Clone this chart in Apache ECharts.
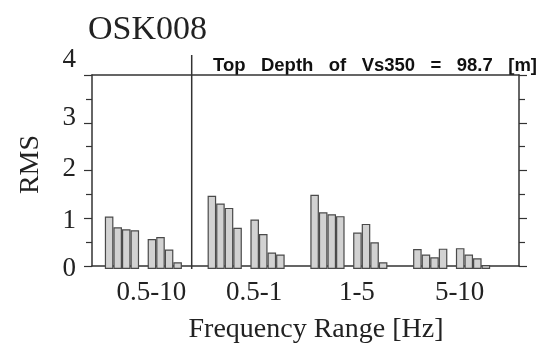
<!DOCTYPE html>
<html>
<head>
<meta charset="utf-8">
<script src="https://cdn.jsdelivr.net/npm/echarts@6/dist/echarts.min.js"></script>
<style>html,body{margin:0;padding:0;background:#fff}#c{width:539px;height:349px}</style>
</head>
<body>
<div id="c"></div>
<script>
// Frequency-range categories (x axis)
var categories = ['0.5-10', '0.5-1', '1-5', '5-10'];
// RMS values: 8 bars per frequency range (two groups of four)
var range_05_10 = [1.08, 0.86, 0.82, 0.80, 0.62, 0.66, 0.40, 0.14];
var range_05_1  = [1.51, 1.35, 1.26, 0.85, 1.02, 0.72, 0.34, 0.30];
var range_1_5   = [1.53, 1.17, 1.13, 1.09, 0.75, 0.93, 0.55, 0.14];
var range_5_10  = [0.41, 0.30, 0.24, 0.42, 0.43, 0.30, 0.22, 0.08];
// y-axis ticks
var yTicks = [0, 1, 2, 3, 4];
var titleText = 'OSK008';
var noteText = 'Top   Depth   of   Vs350   =   98.7   [m]';

var ranges = [range_05_10, range_05_1, range_1_5, range_5_10];
var serif = '"Liberation Serif", "Times New Roman", serif';
var lineCol = '#333';

var series = [];
for (var k = 0; k < 8; k++) {
  if (k === 4) {
    // empty spacer between the two groups of four
    series.push({type: 'bar', xAxisIndex: 1, yAxisIndex: 2, data: ranges.map(function(){return '-';}), barGap: '0%', barCategoryGap: '25%'});
  }
  series.push({
    type: 'bar', xAxisIndex: 1, yAxisIndex: 2,
    data: ranges.map(function (r) { return r[k]; }),
    barGap: '0%', barCategoryGap: '25%',
    itemStyle: {color: '#d2d2d2', borderColor: '#4a4a4a', borderWidth: 1.2},
    silent: true
  });
}

var chart = echarts.init(document.getElementById('c'), null, {renderer: 'canvas'});
chart.setOption({
  animation: false,
  backgroundColor: '#fff',
  grid: [
    {left: 92, right: 20, top: 75, bottom: 80},
    {left: 92, right: 36, top: 75, bottom: 80}
  ],
  xAxis: [
    {type: 'value', gridIndex: 0, min: 0, max: 1, position: 'bottom',
     axisLine: {show: true, onZero: false, lineStyle: {color: lineCol, width: 1.5}},
     axisTick: {show: false}, axisLabel: {show: false}, splitLine: {show: false},
     name: 'Frequency Range [Hz]', nameLocation: 'middle', nameGap: 50,
     nameTextStyle: {fontFamily: serif, fontSize: 28, color: '#222', padding: [0, 0, 0, 21]}},
    {type: 'category', gridIndex: 1, data: categories,
     axisLine: {show: false}, axisTick: {show: false},
     axisLabel: {fontFamily: serif, fontSize: 27, color: '#222', margin: 10, padding: [0, 0, 0, 16]}},
    {type: 'value', gridIndex: 0, min: 0, max: 1, position: 'top',
     axisLine: {show: true, onZero: false, lineStyle: {color: lineCol, width: 1.5}},
     axisTick: {show: false}, axisLabel: {show: false}, splitLine: {show: false}}
  ],
  yAxis: [
    {type: 'value', gridIndex: 0, min: yTicks[0], max: yTicks[yTicks.length - 1], interval: 1, position: 'left',
     axisLine: {show: true, onZero: false, lineStyle: {color: lineCol, width: 1.5}},
     axisTick: {show: true, length: 8, lineStyle: {color: lineCol, width: 1.2}},
     minorTick: {show: true, splitNumber: 2, length: 6, lineStyle: {color: lineCol, width: 1.2}},
     splitLine: {show: false},
     axisLabel: {fontFamily: serif, fontSize: 27, color: '#222', margin: 16,
       formatter: function (v) { return '{t' + v + '|' + v + '}'; },
       rich: {
         t0: {fontFamily: serif, fontSize: 27, color: '#222', padding: [6, 0, 0, 0]},
         t1: {fontFamily: serif, fontSize: 27, color: '#222', padding: [6, 0, 0, 0]},
         t2: {fontFamily: serif, fontSize: 27, color: '#222', padding: [0, 0, 4, 0]},
         t3: {fontFamily: serif, fontSize: 27, color: '#222', padding: [0, 0, 10, 0]},
         t4: {fontFamily: serif, fontSize: 27, color: '#222', padding: [0, 0, 30, 0]}
       }},
     name: 'RMS', nameLocation: 'middle', nameGap: 47, nameRotate: 90,
     nameTextStyle: {fontFamily: serif, fontSize: 28, color: '#222', padding: [0, 0, 0, 12]}},
    {type: 'value', gridIndex: 0, min: 0, max: 4, interval: 1, position: 'right',
     axisLine: {show: true, onZero: false, lineStyle: {color: lineCol, width: 1.5}},
     axisTick: {show: true, length: 8, lineStyle: {color: lineCol, width: 1.2}},
     minorTick: {show: true, splitNumber: 2, length: 6, lineStyle: {color: lineCol, width: 1.2}},
     splitLine: {show: false}, axisLabel: {show: false}},
    {type: 'value', gridIndex: 1, min: 0, max: 4, show: false}
  ],
  series: series,
  graphic: [
    {type: 'text', left: 88, top: 13, silent: true,
     style: {text: titleText, fontFamily: serif, fontSize: 34, fill: '#222'}},
    {type: 'text', left: 213, top: 56, silent: true,
     style: {text: noteText, fontFamily: '"Liberation Sans", Arial, sans-serif', fontWeight: 'bold', fontSize: 18.5, fill: '#111'}},
    {type: 'line', silent: true, shape: {x1: 191.7, y1: 55, x2: 191.7, y2: 269},
     style: {stroke: lineCol, lineWidth: 1.5}}
  ]
});
</script>
</body>
</html>
